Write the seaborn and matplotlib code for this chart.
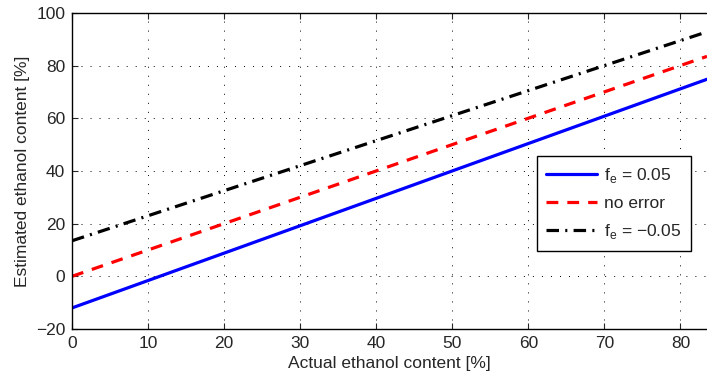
import matplotlib
matplotlib.use("Agg")
import matplotlib.pyplot as plt
import seaborn as sns
import pandas as pd

# Actual ethanol content [%]
actual = [0, 20, 40, 60, 83.5]
# Estimated ethanol content [%] for each sensor error
est_pos = [-12.0, 8.8, 29.6, 50.4, 74.8]     # f_e = 0.05
est_none = [0.0, 20.0, 40.0, 60.0, 83.5]     # no error
est_neg = [13.5, 32.5, 51.5, 70.5, 92.8]     # f_e = -0.05

labels = [r"f$_\mathregular{e}$ = 0.05", "no error", r"f$_\mathregular{e}$ = " + "\u22120.05"]
colors = ["#0000ff", "#ff0000", "#000000"]
# dash patterns in points
dashes = [None, (8.5, 6.5), (9.0, 4.5, 1.5, 4.5)]

frames = []
for lab, ys in zip(labels, [est_pos, est_none, est_neg]):
    frames.append(pd.DataFrame({"actual": actual, "estimated": ys, "case": lab}))
df = pd.concat(frames, ignore_index=True)

sns.set_style("ticks")
plt.rcParams["font.family"] = ["Liberation Sans", "DejaVu Sans"]
plt.rcParams["mathtext.fontset"] = "custom"
plt.rcParams["mathtext.rm"] = "Liberation Sans"
plt.rcParams["lines.scale_dashes"] = False

fig = plt.figure(figsize=(7.07, 3.79), dpi=100)
ax = fig.add_axes([0.102, 0.132, 0.898, 0.834])

for lab, col, ds in zip(labels, colors, dashes):
    sub = df[df["case"] == lab]
    sns.lineplot(data=sub, x="actual", y="estimated", ax=ax, color=col,
                 linewidth=2.3, label=lab, legend=False)
    ln = ax.lines[-1]
    if ds is not None:
        ln.set_linestyle((0, ds))

ax.set_xlim(0, 83.5)
ax.set_ylim(-20, 100)
ax.set_xticks(range(0, 81, 10))
ax.set_yticks(range(-20, 101, 20))
ax.set_yticklabels(["\u221220"] + [str(v) for v in range(0, 101, 20)])
ax.grid(True, color="black", linestyle=(0, (0.7, 5.8)), linewidth=0.7)
ax.tick_params(direction="in", length=4, width=0.8, labelsize=12.5, top=True, right=False, pad=5)
for s in ["left", "bottom", "top"]:
    ax.spines[s].set_linewidth(1.0)
    ax.spines[s].set_color("black")
ax.spines["right"].set_visible(False)

ax.set_xlabel("Actual ethanol content [%]", fontsize=12.5, labelpad=4)
ax.set_ylabel("Estimated ethanol content [%]", fontsize=12.5, labelpad=4)

leg = ax.legend(loc="lower left", bbox_to_anchor=(0.732, 0.247), fontsize=12.5,
                frameon=True, fancybox=False, handlelength=2.9, borderpad=0.55,
                labelspacing=0.65, handletextpad=0.4, borderaxespad=0)
leg.get_frame().set_edgecolor("black")
leg.get_frame().set_linewidth(1.0)
leg.get_frame().set_alpha(1.0)

fig.savefig("out.png", dpi=100)
